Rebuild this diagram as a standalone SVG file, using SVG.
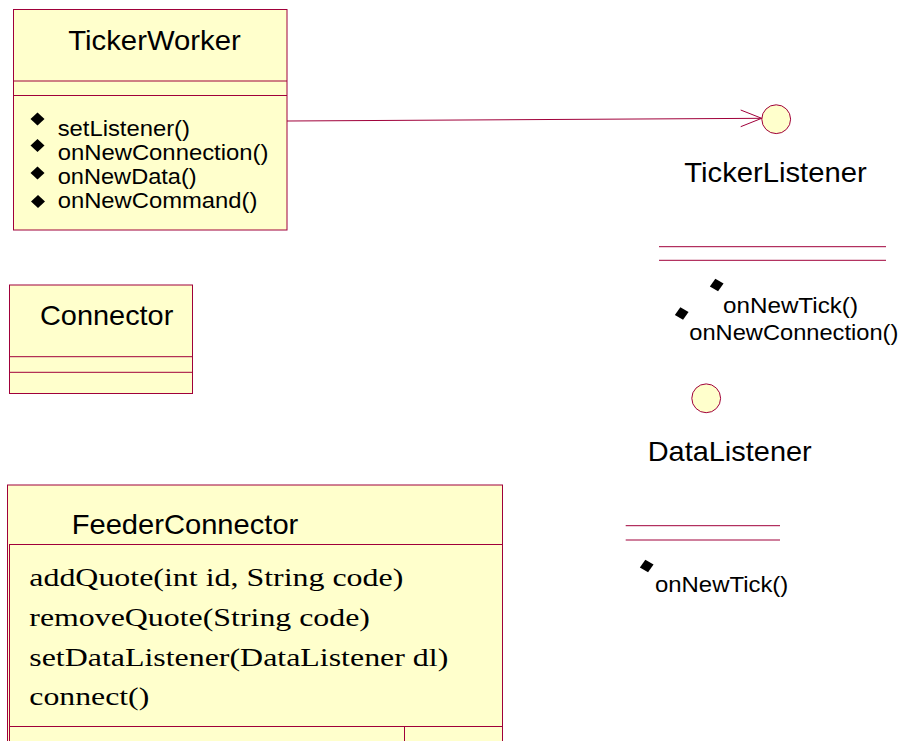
<svg xmlns="http://www.w3.org/2000/svg" width="902" height="741" viewBox="0 0 902 741">
<style>
.box{fill:#FFFFCC;stroke:#A0003A;stroke-width:1}
.ln{stroke:#A0003A;stroke-width:1;fill:none}
.t{font-family:"Liberation Sans",Arial,sans-serif;fill:#000}
.big{font-size:28.5px}
.sm{font-size:22px}
.ser{font-family:"Liberation Serif","Times New Roman",serif;font-size:25px;fill:#000}
.dm{fill:#000}
</style>
<defs>
<polygon id="dia" points="0,-6.5 7,0 0,6.5 -7,0"/>
</defs>
<rect width="902" height="741" fill="#fff"/>
<g id="TickerWorker">
<rect class="box" x="13.5" y="9.5" width="273.5" height="220.5"/>
<line class="ln" x1="13.5" y1="81" x2="287" y2="81"/>
<line class="ln" x1="13.5" y1="95.5" x2="287" y2="95.5"/>
<text class="t big" x="68.3" y="50" textLength="172.4" lengthAdjust="spacingAndGlyphs">TickerWorker</text>
<use href="#dia" class="dm" x="37.5" y="119"/>
<use href="#dia" class="dm" x="37.5" y="145.5"/>
<use href="#dia" class="dm" x="37.5" y="173"/>
<use href="#dia" class="dm" x="38" y="201.5"/>
<text class="t sm" x="57.7" y="135.7" textLength="132.3" lengthAdjust="spacingAndGlyphs">setListener()</text>
<text class="t sm" x="57.7" y="159.5" textLength="210.7" lengthAdjust="spacingAndGlyphs">onNewConnection()</text>
<text class="t sm" x="57.7" y="184.2" textLength="139" lengthAdjust="spacingAndGlyphs">onNewData()</text>
<text class="t sm" x="57.7" y="207.6" textLength="199.7" lengthAdjust="spacingAndGlyphs">onNewCommand()</text>
</g>
<g id="Connector">
<rect class="box" x="9.5" y="285" width="183" height="108.5"/>
<line class="ln" x1="9.5" y1="356.7" x2="192.5" y2="356.7"/>
<line class="ln" x1="9.5" y1="372.3" x2="192.5" y2="372.3"/>
<text class="t big" x="40" y="325" textLength="133.3" lengthAdjust="spacingAndGlyphs">Connector</text>
</g>
<g id="FeederConnector">
<rect class="box" x="7.5" y="485" width="495" height="270"/>
<rect class="box" x="9.5" y="544.5" width="493" height="210"/>
<line class="ln" x1="9.5" y1="726.5" x2="502.5" y2="726.5"/>
<line class="ln" x1="404.5" y1="726.5" x2="404.5" y2="741"/>
<text class="t big" x="71.7" y="534" textLength="226.6" lengthAdjust="spacingAndGlyphs">FeederConnector</text>
<text class="ser" x="29.3" y="586" textLength="374" lengthAdjust="spacingAndGlyphs">addQuote(int id, String code)</text>
<text class="ser" x="29.3" y="626" textLength="340.7" lengthAdjust="spacingAndGlyphs">removeQuote(String code)</text>
<text class="ser" x="29.3" y="665.5" textLength="419" lengthAdjust="spacingAndGlyphs">setDataListener(DataListener dl)</text>
<text class="ser" x="29.3" y="705" textLength="120" lengthAdjust="spacingAndGlyphs">connect()</text>
</g>
<g id="TickerListener">
<circle class="box" cx="776.2" cy="119.2" r="14.4"/>
<text class="t big" x="684.3" y="181.7" textLength="182.4" lengthAdjust="spacingAndGlyphs">TickerListener</text>
<line class="ln" x1="659" y1="246.7" x2="886" y2="246.7"/>
<line class="ln" x1="659" y1="260.3" x2="886" y2="260.3"/>
<use href="#dia" class="dm" transform="translate(716.7,285) rotate(-12)"/>
<use href="#dia" class="dm" transform="translate(681.7,313.5) rotate(-12)"/>
<text class="t sm" x="723" y="313.3" textLength="135" lengthAdjust="spacingAndGlyphs">onNewTick()</text>
<text class="t sm" x="689.3" y="340" textLength="209" lengthAdjust="spacingAndGlyphs">onNewConnection()</text>
</g>
<g id="DataListener">
<circle class="box" cx="706.2" cy="398.3" r="14.4"/>
<text class="t big" x="647.7" y="460.7" textLength="164" lengthAdjust="spacingAndGlyphs">DataListener</text>
<line class="ln" x1="625.7" y1="525.7" x2="780" y2="525.7"/>
<line class="ln" x1="625.7" y1="540" x2="780" y2="540"/>
<use href="#dia" class="dm" transform="translate(646.7,566) rotate(-12)"/>
<text class="t sm" x="655" y="591.7" textLength="133.3" lengthAdjust="spacingAndGlyphs">onNewTick()</text>
</g>
<g id="connectors">
<line class="ln" x1="287" y1="121" x2="761.7" y2="118.3"/>
<polyline class="ln" points="740.7,110 761.7,118.3 740.7,126.7"/>
</g>
</svg>
